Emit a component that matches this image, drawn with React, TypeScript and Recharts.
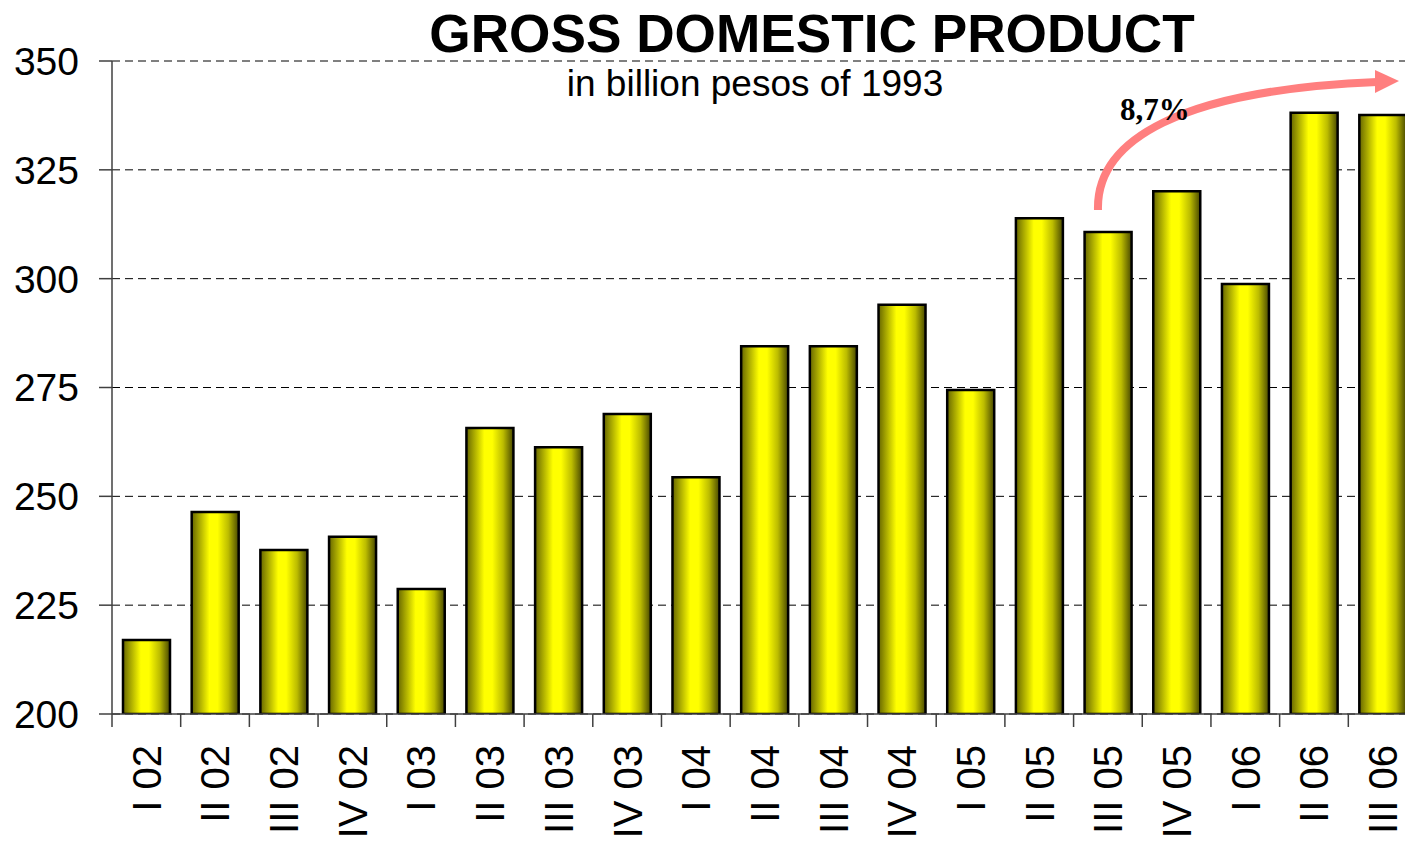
import React from "react";
import { BarChart, Bar, XAxis, YAxis, CartesianGrid } from "recharts";

const categories = [
  "I 02", "II 02", "III 02", "IV 02",
  "I 03", "II 03", "III 03", "IV 03",
  "I 04", "II 04", "III 04", "IV 04",
  "I 05", "II 05", "III 05", "IV 05",
  "I 06", "II 06", "III 06",
];
const gdpValues = [
  217.0, 246.4, 237.7, 240.7,
  228.7, 265.7, 261.3, 268.9,
  254.4, 284.5, 284.5, 294.0,
  274.4, 313.9, 310.7, 320.1,
  298.8, 338.1, 337.6,
];
const yTicks = [200, 225, 250, 275, 300, 325, 350];
const titleText = "GROSS DOMESTIC PRODUCT";
const subtitleText = "in billion pesos of 1993";
const growthLabel = "8,7%";

const data = categories.map((c, i) => ({ quarter: c, gdp: gdpValues[i] }));

const CHART_W = 1430;
const CHART_H = 844;
const Y_AXIS_W = 112;
const MARGIN = { top: 61, right: 13, bottom: 0, left: 0 };
const BAND = (CHART_W - MARGIN.left - MARGIN.right - Y_AXIS_W) / categories.length;
const TICK_SIZE = 13;
const TICK_MARGIN = 18;
const FONT = "'Liberation Sans', Arial, sans-serif";
const AXIS_COLOR = "#404040";

function XTick(props: any) {
  const { x, y, payload } = props;
  const lineX = x - BAND / 2;
  const axisY = y - TICK_MARGIN - TICK_SIZE;
  return (
    <g>
      <line x1={lineX} x2={lineX} y1={axisY} y2={axisY + TICK_SIZE} stroke={AXIS_COLOR} strokeWidth={1.5} />
      <text
        x={x}
        y={y}
        transform={`rotate(-90, ${x}, ${y})`}
        textAnchor="end"
        dy="0.36em"
        fontFamily={FONT}
        fontSize={40}
        fill="#000"
      >
        {payload.value}
      </text>
    </g>
  );
}

export default function App() {
  return (
    <div
      style={{
        position: "absolute",
        left: 0,
        top: 0,
        width: 1405,
        height: 844,
        overflow: "hidden",
        background: "#fff",
      }}
    >
      <BarChart width={CHART_W} height={CHART_H} data={data} margin={MARGIN}>
        <defs>
          <linearGradient id="barGrad" x1="0" y1="0" x2="1" y2="0">
            <stop offset="0" stopColor="#666600" />
            <stop offset="0.15" stopColor="#a3a300" />
            <stop offset="0.38" stopColor="#ffff00" />
            <stop offset="0.55" stopColor="#ffff00" />
            <stop offset="0.78" stopColor="#bcbc00" />
            <stop offset="1" stopColor="#484800" />
          </linearGradient>
        </defs>
        <CartesianGrid vertical={false} stroke="#000" strokeDasharray="8 5" strokeWidth={1} />
        <XAxis
          dataKey="quarter"
          interval={0}
          height={130}
          tickSize={TICK_SIZE}
          tickMargin={TICK_MARGIN}
          tickLine={false}
          axisLine={{ stroke: AXIS_COLOR, strokeWidth: 1.5 }}
          tick={<XTick />}
        />
        <YAxis
          domain={[200, 350]}
          ticks={yTicks}
          interval={0}
          width={Y_AXIS_W}
          tickSize={TICK_SIZE}
          tickMargin={20}
          axisLine={{ stroke: AXIS_COLOR, strokeWidth: 1.5 }}
          tickLine={{ stroke: AXIS_COLOR, strokeWidth: 1.5 }}
          tick={{ fill: "#000", fontSize: 39, fontFamily: FONT }}
          allowDataOverflow
        />
        <Bar
          dataKey="gdp"
          barSize={47}
          fill="url(#barGrad)"
          stroke="#000"
          strokeWidth={2.5}
          isAnimationActive={false}
        />
      </BarChart>
      <svg
        width={1405}
        height={844}
        style={{ position: "absolute", left: 0, top: 0, pointerEvents: "none" }}
      >
        <text x={812} y={52} textAnchor="middle" fontFamily={FONT} fontWeight="bold" fontSize={53.2} fill="#000">
          {titleText}
        </text>
        <text x={755} y={96} textAnchor="middle" fontFamily={FONT} fontSize={37} fill="#000">
          {subtitleText}
        </text>
        <path
          d="M 1098 210 C 1096 140, 1180 90, 1377 82"
          fill="none"
          stroke="#ff7f7f"
          strokeWidth={8}
        />
        <polygon points="1375,70 1399,81 1375,93" fill="#ff7f7f" />
        <text x={1120} y={120} fontFamily="'Liberation Serif', 'Times New Roman', serif" fontWeight="bold" fontSize={31} fill="#000">
          {growthLabel}
        </text>
      </svg>
    </div>
  );
}
